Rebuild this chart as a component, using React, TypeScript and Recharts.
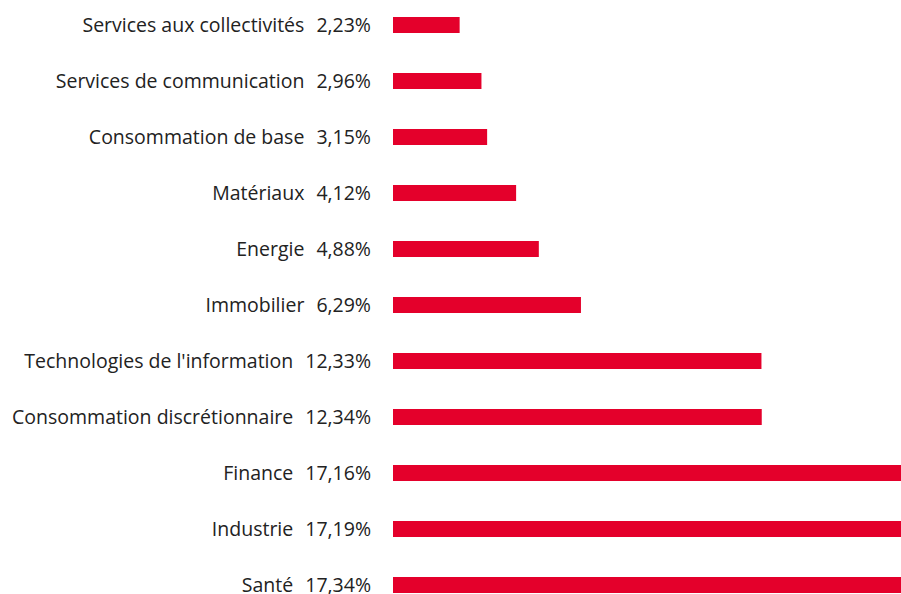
import React from 'react';
import { BarChart, Bar, XAxis, YAxis } from 'recharts';

const sectors = [
  'Services aux collectivités',
  'Services de communication',
  'Consommation de base',
  'Matériaux',
  'Energie',
  'Immobilier',
  "Technologies de l'information",
  'Consommation discrétionnaire',
  'Finance',
  'Industrie',
  'Santé',
];
const weights = [2.23, 2.96, 3.15, 4.12, 4.88, 6.29, 12.33, 12.34, 17.16, 17.19, 17.34];

const data = sectors.map((name, i) => ({ name, weight: weights[i] }));

const fmt = (v: number) => v.toFixed(2).replace('.', ',') + '%';

const SectorTick = ({ x, y, payload, index }: any) => {
  const v = weights[index] ?? data.find(d => d.name === payload.value)?.weight ?? 0;
  return (
    <text x={x} y={y} dy={6.5} textAnchor="end" fill="#222" fontSize={19.5} fontFamily="'Open Sans', sans-serif">
      <tspan>{payload.value}</tspan>
      <tspan dx={12}>{fmt(v)}</tspan>
    </text>
  );
};

export default function App() {
  return (
    <div style={{ position: 'absolute', top: 0, left: 0, width: 901, height: 594, overflow: 'hidden', background: '#fff' }}>
      <div style={{ marginTop: -3 }}>
        <BarChart width={901} height={616} data={data} layout="vertical" margin={{ top: 0, right: 0, bottom: 0, left: 0 }}>
          <XAxis type="number" domain={[0, 17]} allowDataOverflow hide />
          <YAxis
            type="category"
            dataKey="name"
            width={393}
            axisLine={false}
            tickLine={false}
            tickSize={0}
            tickMargin={22}
            interval={0}
            tick={<SectorTick />}
          />
          <Bar dataKey="weight" fill="#E4002B" barSize={16} isAnimationActive={false} />
        </BarChart>
      </div>
    </div>
  );
}
